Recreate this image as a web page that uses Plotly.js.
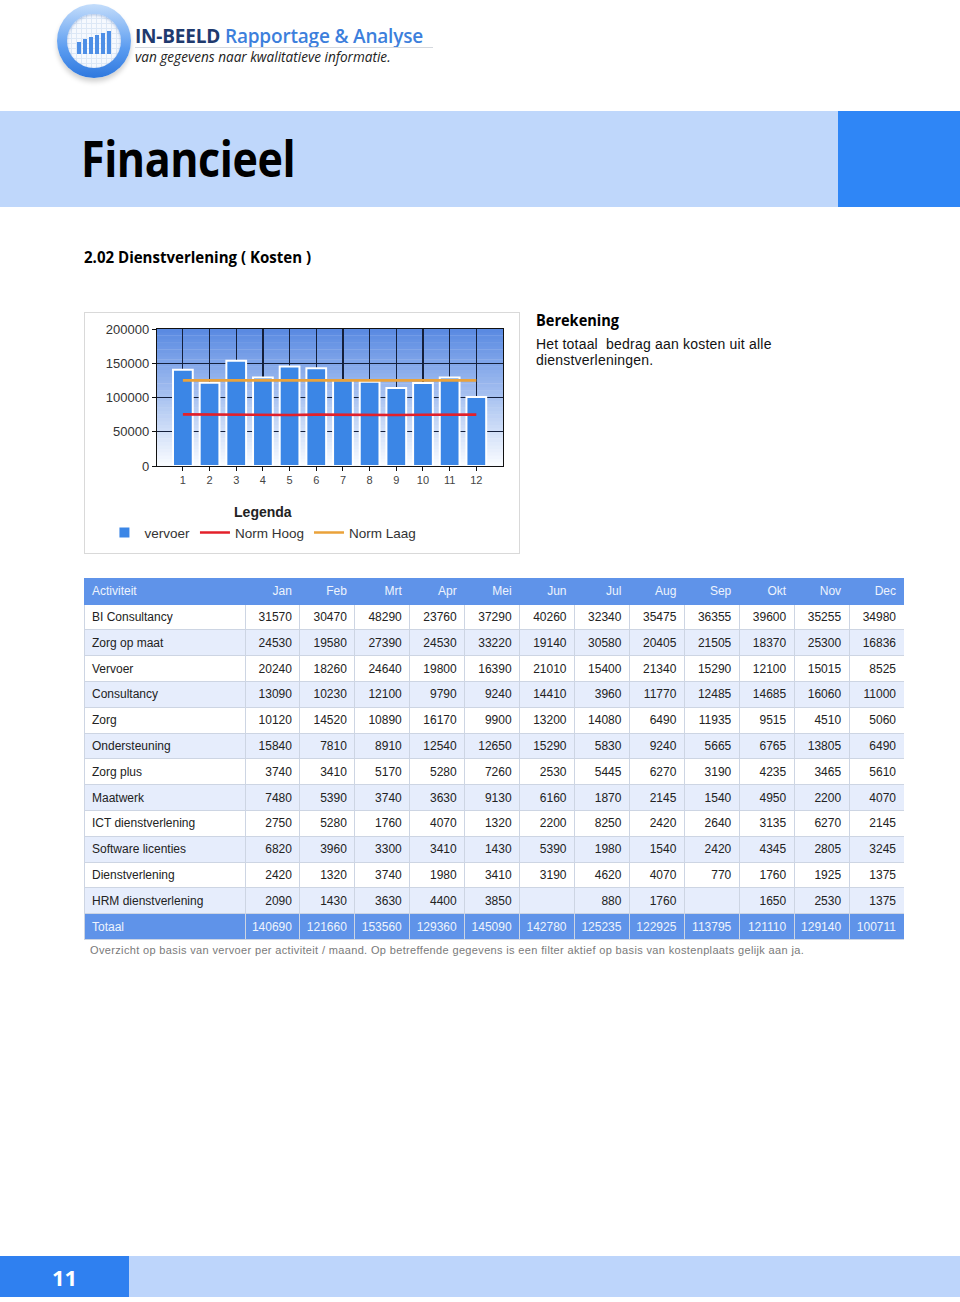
<!DOCTYPE html>
<html><head><meta charset="utf-8">
<script src="https://cdn.plot.ly/plotly-3.0.1.min.js"></script>
<style>
html,body{margin:0;padding:0}
body{width:960px;height:1302px;position:relative;background:#fff;font-family:"Liberation Sans",Arial,sans-serif;overflow:hidden}
.abs{position:absolute}
.cal{font-family:"Open Sans","Noto Sans",sans-serif;transform-origin:left center;white-space:nowrap}
</style></head><body>

<!-- logo -->
<div class="abs" style="left:57px;top:4px;width:74px;height:74px;border-radius:50%;background:linear-gradient(to bottom,#c4ddfb,#5b9cf0 60%,#2f78de);box-shadow:0 4px 5px rgba(0,0,0,0.18)"></div>
<div class="abs" style="left:67px;top:14px;width:54px;height:54px;border-radius:50%;background-color:#f6f9fe;background-image:repeating-linear-gradient(0deg,transparent 0 4px,#dde8f6 4px 5px),repeating-linear-gradient(90deg,transparent 0 4px,#dde8f6 4px 5px);box-shadow:inset 0 1px 3px rgba(40,90,170,0.35)"></div>
<div id="logobars" class="abs" style="left:77px;top:31px;width:36px;height:23px"></div>
<div class="abs cal" style="left:135px;top:26px;height:20px;line-height:20px;font-size:20px;font-weight:600;letter-spacing:-0.2px;transform:scaleX(0.95)"><span style="color:#1f3a6e;font-weight:700">IN-BEELD</span> <span style="color:#3d7fdc">Rapportage &amp; Analyse</span></div>
<div class="abs" style="left:135px;top:47px;width:298px;height:1px;background:#d4d8de"></div>
<div class="abs cal" style="left:135px;top:49px;height:15px;line-height:15px;font-size:14px;font-style:italic;color:#222;transform:scaleX(0.97)">van gegevens naar kwalitatieve informatie.</div>

<!-- title band -->
<div class="abs" style="left:0;top:111px;width:838px;height:96px;background:#bfd7fb"></div>
<div class="abs" style="left:838px;top:111px;width:122px;height:96px;background:#2f86f6"></div>
<div class="abs cal" style="left:81px;top:124px;font-size:50px;font-weight:700;color:#000;transform:scaleX(0.86);letter-spacing:-0.5px">Financieel</div>

<div class="abs cal" style="left:84px;top:246px;font-size:16px;font-weight:700;color:#000;transform:scaleX(0.94)">2.02 Dienstverlening ( Kosten )</div>

<!-- chart frame -->
<div class="abs" style="left:84px;top:312px;width:434px;height:240px;border:1px solid #d9d9d9"></div>
<div id="chart" class="abs" style="left:85px;top:313px;width:434px;height:240px"></div>

<div class="abs cal" style="left:536px;top:309px;font-size:16px;font-weight:700;color:#000;transform:scaleX(0.91)">Berekening</div>
<div class="abs" style="left:536px;top:336px;width:260px;font-size:14px;line-height:16px;color:#111;letter-spacing:0.2px">Het totaal&nbsp; bedrag aan kosten uit alle dienstverleningen.</div>

<div id="table" class="abs" style="left:84px;top:578px;width:820px;height:364px"></div>
<div class="abs" style="left:90px;top:944px;font-size:11px;color:#7a7a7a;white-space:nowrap;letter-spacing:0.35px">Overzicht op basis van vervoer per activiteit / maand. Op betreffende gegevens is een filter aktief op basis van kostenplaats gelijk aan ja.</div>

<!-- footer -->
<div class="abs" style="left:0;top:1256px;width:129px;height:41px;background:#2f80f0"></div>
<div class="abs" style="left:129px;top:1256px;width:831px;height:41px;background:#bdd5fb"></div>
<div class="abs cal" style="left:0;top:1262px;width:129px;text-align:center;font-size:22px;font-weight:700;color:#fff">11</div>

<script>
// ---------- DATA ----------
var months = ['Jan','Feb','Mrt','Apr','Mei','Jun','Jul','Aug','Sep','Okt','Nov','Dec'];
var monthNums = [1,2,3,4,5,6,7,8,9,10,11,12];
var activiteiten = ['BI Consultancy','Zorg op maat','Vervoer','Consultancy','Zorg','Ondersteuning','Zorg plus','Maatwerk','ICT dienstverlening','Software licenties','Dienstverlening','HRM dienstverlening'];
var biConsultancy   = [31570,30470,48290,23760,37290,40260,32340,35475,36355,39600,35255,34980];
var zorgOpMaat      = [24530,19580,27390,24530,33220,19140,30580,20405,21505,18370,25300,16836];
var vervoer         = [20240,18260,24640,19800,16390,21010,15400,21340,15290,12100,15015,8525];
var consultancy     = [13090,10230,12100,9790,9240,14410,3960,11770,12485,14685,16060,11000];
var zorg            = [10120,14520,10890,16170,9900,13200,14080,6490,11935,9515,4510,5060];
var ondersteuning   = [15840,7810,8910,12540,12650,15290,5830,9240,5665,6765,13805,6490];
var zorgPlus        = [3740,3410,5170,5280,7260,2530,5445,6270,3190,4235,3465,5610];
var maatwerk        = [7480,5390,3740,3630,9130,6160,1870,2145,1540,4950,2200,4070];
var ictDienst       = [2750,5280,1760,4070,1320,2200,8250,2420,2640,3135,6270,2145];
var softwareLic     = [6820,3960,3300,3410,1430,5390,1980,1540,2420,4345,2805,3245];
var dienstverlening = [2420,1320,3740,1980,3410,3190,4620,4070,770,1760,1925,1375];
var hrmDienst       = [2090,1430,3630,4400,3850,null,880,1760,null,1650,2530,1375];
var totaal          = [140690,121660,153560,129360,145090,142780,125235,122925,113795,121110,129140,100711];
var normHoog        = [75400,75000,74500,74800,74500,75000,74600,75100,74500,74800,74400,75000];
var normLaag        = [125000,125000,125000,125000,125000,125000,125000,125000,125000,125000,125000,125000];
var yTicks = [0,50000,100000,150000,200000];
var logoBars = [12,15,17,19,21,23];

// logo icon bars (decoration)
(function(){
  var c=document.getElementById('logobars');
  logoBars.forEach(function(h,i){
    var d=document.createElement('div');
    d.style.cssText='position:absolute;bottom:0;left:'+(i*6)+'px;width:4px;height:'+h+'px;background:#4d8ee6';
    c.appendChild(d);
  });
})();

// ---------- CHART ----------
var bgShapes=[];
var nb=40, gradTop=[90,138,226], gradBot=[248,251,255];
for(var i=0;i<nb;i++){
  var t=i/(nb-1);
  var col='rgb('+Math.round(gradBot[0]+(gradTop[0]-gradBot[0])*t)+','+Math.round(gradBot[1]+(gradTop[1]-gradBot[1])*t)+','+Math.round(gradBot[2]+(gradTop[2]-gradBot[2])*t)+')';
  bgShapes.push({type:'rect',xref:'paper',yref:'paper',x0:0,x1:1,y0:i/nb,y1:(i+1)/nb+0.003,fillcolor:col,line:{width:0},layer:'below'});
}
var font='"Liberation Sans", Arial, sans-serif';
var traces=[
  {type:'bar',name:'vervoer',x:monthNums,y:totaal,width:0.74,marker:{color:'#3b86e6',line:{color:'#ffffff',width:2}}},
  {type:'scatter',mode:'lines',name:'Norm Hoog',x:monthNums,y:normHoog,line:{color:'#e3202a',width:2.6}},
  {type:'scatter',mode:'lines',name:'Norm Laag',x:monthNums,y:normLaag,line:{color:'#eaa23a',width:2.6}}
];
var layout={
  width:434,height:240,
  margin:{l:72,r:16,t:16,b:87},
  paper_bgcolor:'rgba(0,0,0,0)',plot_bgcolor:'rgba(0,0,0,0)',
  shapes:bgShapes,
  showlegend:true,
  legend:{orientation:'h',xref:'container',yref:'container',x:0.41,xanchor:'center',y:0.225,yanchor:'top',
    font:{family:font,size:13.5,color:'#333'},
    title:{text:'<b>Legenda</b>',side:'top center',font:{family:font,size:14,color:'#222'}},
    itemwidth:30,traceorder:'normal',bgcolor:'rgba(0,0,0,0)'},
  xaxis:{range:[0.03,13],tickvals:monthNums,ticktext:monthNums.map(String),
    showgrid:true,gridcolor:'#14203c',gridwidth:1.2,
    showline:true,linecolor:'#111',linewidth:1.2,mirror:true,
    ticks:'outside',ticklen:4,tickcolor:'#111',
    tickfont:{family:font,size:11,color:'#444'},zeroline:false,fixedrange:true},
  yaxis:{range:[0,200000],tickvals:yTicks,tickformat:'d',
    showgrid:true,gridcolor:'#14203c',gridwidth:1.2,
    showline:true,linecolor:'#111',linewidth:1.2,mirror:true,
    ticks:'outside',ticklen:4,tickcolor:'#111',
    tickfont:{family:font,size:13,color:'#333'},zeroline:false,fixedrange:true},
  bargap:0.26
};
Plotly.newPlot('chart',traces,layout,{displayModeBar:false,staticPlot:true});

// ---------- TABLE ----------
var rows=[biConsultancy,zorgOpMaat,vervoer,consultancy,zorg,ondersteuning,zorgPlus,maatwerk,ictDienst,softwareLic,dienstverlening,hrmDienst];
var headerBlue='#5f93e9', stripe='#e6edfc';
var colValues=[activiteiten.concat(['Totaal'])];
for(var m=0;m<12;m++){
  var cv=rows.map(function(r){return r[m]===null?'':String(r[m]);});
  cv.push(String(totaal[m]));
  colValues.push(cv);
}
var rowFill=[], rowFont=[];
for(var r=0;r<13;r++){
  rowFill.push(r===12?headerBlue:(r%2===1?stripe:'#ffffff'));
  rowFont.push(r===12?'#eef3fd':'#222222');
}
var fills=colValues.map(function(){return rowFill;});
var fonts=colValues.map(function(){return rowFont;});
var aligns=['left'].concat(months.map(function(){return 'right';}));
var tbl={type:'table',
  columnwidth:[161].concat(months.map(function(){return 54.9;})),
  header:{values:['Activiteit'].concat(months),align:aligns,height:26,
    fill:{color:headerBlue},line:{color:headerBlue,width:1},
    font:{family:font,size:12,color:'#eef3fd'}},
  cells:{values:colValues,align:aligns,height:25.8,
    fill:{color:fills},line:{color:'#cdd5e3',width:1},
    font:{family:font,size:12,color:fonts}}
};
Plotly.newPlot('table',[tbl],{width:820,height:364,margin:{l:0,r:0,t:0,b:0},paper_bgcolor:'rgba(0,0,0,0)'},{displayModeBar:false,staticPlot:true});
</script>
</body></html>
